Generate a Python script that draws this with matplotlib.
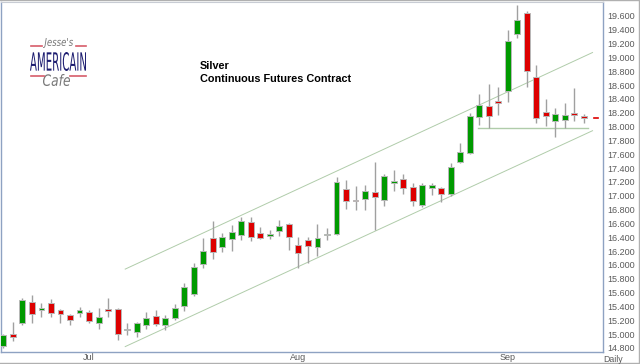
import numpy as np
import pandas as pd
import matplotlib
matplotlib.use("Agg")
import matplotlib.pyplot as plt
from matplotlib.lines import Line2D
from matplotlib.textpath import TextPath
from matplotlib.patches import PathPatch
from matplotlib.font_manager import FontProperties
from matplotlib.transforms import Affine2D, IdentityTransform

plt.rcParams["font.family"] = ["Liberation Sans", "DejaVu Sans"]

# daily silver futures, 2019-06-18 .. 2019-09-13 (trading days)
dates = pd.bdate_range("2019-06-18", "2019-09-13")
dates = dates[~dates.isin(pd.to_datetime(["2019-07-04", "2019-09-02"]))]

opens = [14.83, 15.00, 15.16, 15.47, 15.35, 15.45, 15.35, 15.28, 15.31, 15.32,
         15.16, 15.36, 15.36, 15.06, 15.03, 15.13, 15.26, 15.13, 15.23, 15.41,
         15.58, 16.01, 16.39, 16.26, 16.38, 16.43, 16.62, 16.46, 16.42, 16.49,
         16.59, 16.29, 16.36, 16.26, 16.44, 16.45, 17.10, 16.94, 16.95, 17.06,
         16.94, 17.19, 17.24, 17.13, 16.87, 17.11, 17.11, 17.03, 17.49, 17.62,
         18.14, 18.30, 18.37, 18.52, 19.34, 19.64, 18.72, 18.21, 18.08, 18.10,
         18.20, 18.15]
highs = [15.00, 15.18, 15.52, 15.57, 15.45, 15.51, 15.36, 15.29, 15.39, 15.35,
         15.38, 15.52, 15.38, 15.16, 15.18, 15.32, 15.35, 15.28, 15.44, 15.74,
         16.03, 16.39, 16.64, 16.46, 16.58, 16.69, 16.69, 16.55, 16.51, 16.65,
         16.61, 16.40, 16.40, 16.59, 16.53, 17.27, 17.23, 17.14, 17.16, 17.49,
         17.32, 17.37, 17.32, 17.19, 17.19, 17.19, 17.13, 17.47, 17.76, 18.20,
         18.47, 18.62, 18.57, 19.40, 19.76, 19.67, 18.89, 18.40, 18.27, 18.34,
         18.56, 18.18]
lows = [14.80, 14.90, 15.13, 15.16, 15.25, 15.25, 15.16, 15.13, 15.25, 15.16,
        15.08, 15.25, 14.92, 14.99, 14.96, 15.08, 15.12, 15.06, 15.21, 15.34,
        15.55, 15.96, 16.09, 16.19, 16.20, 16.36, 16.35, 16.38, 16.38, 16.42,
        16.22, 15.96, 16.03, 16.13, 16.36, 16.43, 16.81, 16.80, 16.80, 16.51,
        16.85, 17.07, 17.03, 16.85, 16.84, 17.01, 16.91, 17.00, 17.47, 17.60,
        18.02, 17.98, 18.17, 18.36, 19.28, 18.57, 18.05, 18.01, 17.85, 17.98,
        18.08, 18.05]
closes = [14.99, 14.96, 15.49, 15.29, 15.38, 15.31, 15.29, 15.21, 15.35, 15.19,
          15.25, 15.34, 15.00, 15.065, 15.16, 15.23, 15.15, 15.23, 15.38, 15.68,
          15.97, 16.20, 16.19, 16.40, 16.48, 16.64, 16.40, 16.39, 16.45, 16.56,
          16.40, 16.17, 16.27, 16.39, 16.45, 17.20, 16.93, 16.93, 17.07, 16.98,
          17.29, 17.21, 17.11, 16.93, 17.16, 17.16, 17.03, 17.42, 17.63, 18.15,
          18.31, 18.15, 18.34, 19.24, 19.54, 18.80, 18.13, 18.15, 18.18, 18.17,
          18.17, 18.13]

# trend channel and support drawn on the chart (bar index, price)
upper_channel = ([12.8, 61.9], [15.94, 19.07])
lower_channel = ([12.8, 61.9], [14.82, 17.94])
support = ([49.9, 61.4], [17.98, 17.98])

price_ticks = np.arange(14.8, 19.61, 0.2)

GREEN = "#009a00"
RED = "#dd0000"
WICK = "#a0a0a0"
AXIS = "#8ea2c2"
TXT = "#5a5a5a"

fig = plt.figure(figsize=(6.4, 3.64), dpi=100)
ax = fig.add_axes([1 / 640, 12 / 364, 602 / 640, 350 / 364])

x = np.arange(len(dates))
o = np.array(opens)
h = np.array(highs)
l = np.array(lows)
c = np.array(closes)
up = c >= o
col = np.where(up, GREEN, RED)

ax.vlines(x, l, h, color=WICK, linewidth=1, zorder=2)
ax.bar(x, np.maximum(np.abs(c - o), 0.012), bottom=np.minimum(o, c), width=0.62,
       color=col, edgecolor="#b8b8b8", linewidth=0.7, zorder=3)

ax.plot(*upper_channel, color="#b0ccaa", linewidth=0.7, zorder=1)
ax.plot(*lower_channel, color="#b0ccaa", linewidth=0.7, zorder=1)
ax.plot(*support, color="#b0ccaa", linewidth=1.0, zorder=1)

ax.set_xlim(-0.25, 63)
ax.set_ylim(14.742, 19.80)

# month ticks at the first trading day of each month
months = pd.Series(dates.month)
first = [i for i in range(1, len(dates)) if months[i] != months[i - 1]]
ax.set_xticks(first)
ax.set_xticklabels([dates[i].strftime("%b") for i in first])
ax.tick_params(axis="x", length=0, pad=1, labelsize=6.5, labelcolor=TXT)

ax.yaxis.tick_right()
ax.set_yticks(price_ticks)
ax.set_yticklabels([f"{v:.3f}" for v in price_ticks])
ax.tick_params(axis="y", length=0, pad=3, labelsize=6.5, labelcolor=TXT)

for s in ["left", "bottom", "right"]:
    ax.spines[s].set_color(AXIS)
    ax.spines[s].set_linewidth(1)
ax.spines["top"].set_color("#c8ccd4")

# last price marker on the axis
ax.plot([62.1, 62.5], [c[-1], c[-1]], color=RED, linewidth=1.2, clip_on=False)

fig.text(613 / 640, 1 - 359 / 364, "Daily", fontsize=6.3, color=TXT, ha="center", va="center")

fig.text(200 / 640, 1 - 66 / 364, "Silver", fontsize=7.8, fontweight="bold", va="center")
fig.text(200 / 640, 1 - 79 / 364, "Continuous Futures Contract", fontsize=7.8,
         fontweight="bold", va="center")


# logo, text squeezed into a pixel box
def boxed_text(s, x0, y0, x1, y1, color, style="normal", weight="normal"):
    tp = TextPath((0, 0), s, size=10, prop=FontProperties(family="DejaVu Sans", style=style,
                                                            weight=weight))
    ext = tp.get_extents()
    sx = (x1 - x0) / ext.width
    sy = (y1 - y0) / ext.height
    tr = Affine2D().translate(-ext.x0, -ext.y0).scale(sx, sy).translate(x0, 364 - y1)
    fig.add_artist(PathPatch(tr.transform_path(tp), facecolor=color, edgecolor="none",
                             transform=IdentityTransform()))


boxed_text("Jesse's", 43, 38, 73, 48, "#777777", style="italic")
boxed_text("AMERICAIN", 30, 52, 86, 71, "#1c1c70")
boxed_text("Cafe", 43, 74, 70, 86, "#777777", style="italic")
for (x0, x1, yy) in [(31, 42, 46), (76, 86, 46), (31, 44, 76), (70, 86, 76)]:
    fig.add_artist(Line2D([x0 / 640, x1 / 640], [1 - yy / 364] * 2, color="#cc3344",
                          linewidth=1.2, alpha=0.8))

# outer frame
fig.add_artist(Line2D([0, 0.9985, 0.9985, 0], [0.003, 0.003, 0.999, 0.999],
                      color="#b0b0b0", linewidth=1))

fig.savefig("out.png", dpi=100)
